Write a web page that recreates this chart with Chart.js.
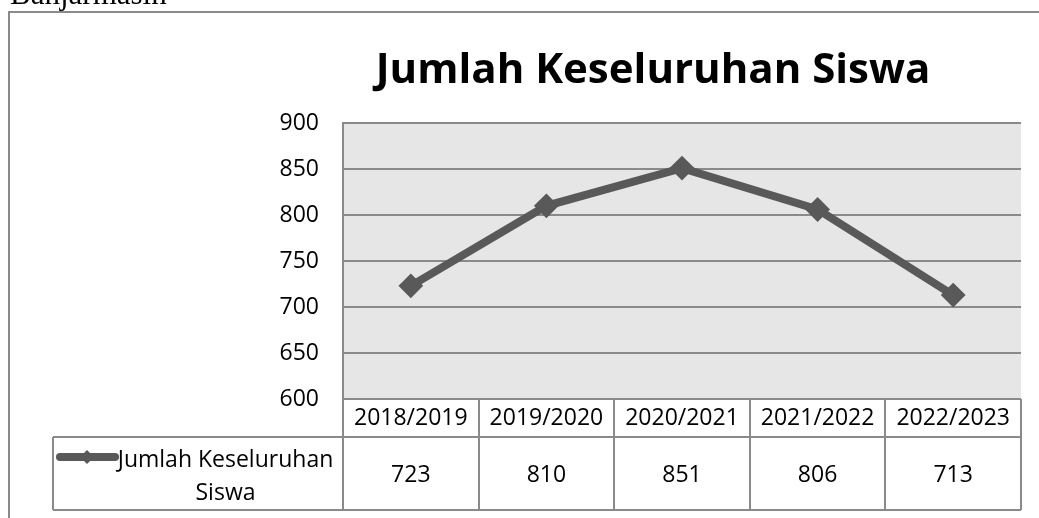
<!DOCTYPE html>
<html>
<head>
<meta charset="utf-8">
<script src="https://cdn.jsdelivr.net/npm/chart.js@4/dist/chart.umd.min.js"></script>
<style>
    body { margin: 0; background: #fff; }
    canvas { display: block; }
</style>
</head>
<body>
<canvas id="siswaChart" width="1039" height="518"></canvas>
<script>
const pageLabel = 'Banjarmasin';
const chartTitle = 'Jumlah Keseluruhan Siswa';
const seriesLabel = 'Jumlah Keseluruhan Siswa';
const years = ['2018/2019', '2019/2020', '2020/2021', '2021/2022', '2022/2023'];
const siswa = [723, 810, 851, 806, 713];
const yTicks = [600, 650, 700, 750, 800, 850, 900];

const FONT = '"Open Sans", "Noto Sans", sans-serif';
const LINE = '#595959';
const GRID = '#8a8a8a';

// splits a label into lines that fit the given width
function wrapText(ctx, text, maxWidth) {
    const words = text.split(' ');
    const lines = [];
    let current = '';
    words.forEach(function (w) {
        const test = current ? current + ' ' + w : w;
        if (ctx.measureText(test).width > maxWidth && current) {
            lines.push(current);
            current = w;
        } else {
            current = test;
        }
    });
    if (current) lines.push(current);
    return lines;
}

const decorPlugin = {
    id: 'decor',
    beforeDraw(chart) {
        const ctx = chart.ctx;
        const area = chart.chartArea;
        ctx.save();
        ctx.fillStyle = '#fff';
        ctx.fillRect(0, 0, chart.width, chart.height);

        // text above the frame
        ctx.fillStyle = '#000';
        ctx.font = '31px "Liberation Serif", serif';
        ctx.textBaseline = 'alphabetic';
        ctx.textAlign = 'left';
        ctx.fillText(pageLabel, 10, 4);

        // frame
        ctx.strokeStyle = GRID;
        ctx.lineWidth = 2;
        ctx.beginPath();
        ctx.moveTo(chart.width + 2, 12);
        ctx.lineTo(9, 12);
        ctx.lineTo(9, chart.height + 2);
        ctx.stroke();

        // plot background
        ctx.fillStyle = '#e6e6e6';
        ctx.fillRect(area.left, area.top, area.right - area.left, area.bottom - area.top);

        // title
        ctx.fillStyle = '#000';
        ctx.font = 'bold 42px ' + FONT;
        ctx.textAlign = 'center';
        ctx.fillText(chartTitle, 653, 83);
        ctx.restore();
    },
    afterDraw(chart) {
        const ctx = chart.ctx;
        const area = chart.chartArea;
        const x = chart.scales.x;
        const colW = (area.right - area.left) / years.length;
        const headTop = area.bottom;
        const headBottom = area.bottom + 38;
        const rowBottom = headBottom + 73;
        const legendLeft = 53;

        ctx.save();
        ctx.strokeStyle = GRID;
        ctx.lineWidth = 2;
        ctx.beginPath();
        ctx.moveTo(legendLeft, headBottom);
        ctx.lineTo(area.right, headBottom);
        ctx.moveTo(legendLeft, rowBottom);
        ctx.lineTo(area.right, rowBottom);
        ctx.moveTo(legendLeft, headBottom);
        ctx.lineTo(legendLeft, rowBottom);
        for (let i = 0; i <= years.length; i++) {
            const cx = Math.round(area.left + i * colW);
            ctx.moveTo(cx, headTop);
            ctx.lineTo(cx, rowBottom);
        }
        ctx.stroke();

        ctx.fillStyle = '#000';
        ctx.font = '23px ' + FONT;
        ctx.textAlign = 'center';
        ctx.textBaseline = 'alphabetic';
        years.forEach(function (label, i) {
            const cx = x.getPixelForValue(i);
            ctx.fillText(label, cx, headTop + 26);
            ctx.fillText(String(siswa[i]), cx, headBottom + 45);
        });

        // legend key
        const keyY = headBottom + 20;
        ctx.strokeStyle = LINE;
        ctx.lineWidth = 8;
        ctx.lineCap = 'round';
        ctx.beginPath();
        ctx.moveTo(60, keyY);
        ctx.lineTo(115, keyY);
        ctx.stroke();
        ctx.fillStyle = LINE;
        ctx.beginPath();
        ctx.moveTo(87 - 7, keyY);
        ctx.lineTo(87, keyY - 7);
        ctx.lineTo(87 + 7, keyY);
        ctx.lineTo(87, keyY + 7);
        ctx.closePath();
        ctx.fill();

        // series name, wrapped
        ctx.fillStyle = '#000';
        const textLeft = 118;
        const textRight = area.left - 10;
        const lines = wrapText(ctx, seriesLabel, textRight - textLeft + 4);
        lines.forEach(function (line, i) {
            ctx.fillText(line, (textLeft + textRight) / 2, headBottom + 30 + i * 33);
        });
        ctx.restore();
    }
};

const ctx = document.getElementById('siswaChart').getContext('2d');
const chart = new Chart(ctx, {
    type: 'line',
    data: {
        labels: years,
        datasets: [{
            label: seriesLabel,
            data: siswa,
            borderColor: LINE,
            backgroundColor: LINE,
            borderWidth: 8,
            pointStyle: 'rectRot',
            pointRadius: 11,
            pointBorderWidth: 2,
            pointBackgroundColor: LINE,
            pointBorderColor: LINE,
            tension: 0
        }]
    },
    options: {
        responsive: false,
        devicePixelRatio: 1,
        animation: false,
        events: [],
        layout: {
            padding: { top: 123, right: 18, bottom: 119, left: 0 }
        },
        plugins: {
            legend: { display: false },
            title: { display: false },
            tooltip: { enabled: false }
        },
        scales: {
            x: {
                type: 'category',
                offset: true,
                display: false
            },
            y: {
                min: 600,
                max: 900,
                afterFit(scale) { scale.width = 343; },
                afterBuildTicks(scale) {
                    scale.ticks = yTicks.map(function (v) { return { value: v }; });
                },
                grid: {
                    color: GRID,
                    lineWidth: 2,
                    drawTicks: false
                },
                border: { display: true, color: GRID, width: 2 },
                ticks: {
                    padding: 24,
                    color: '#000',
                    font: { family: FONT, size: 23 }
                }
            }
        }
    },
    plugins: [decorPlugin]
});
</script>
</body>
</html>
